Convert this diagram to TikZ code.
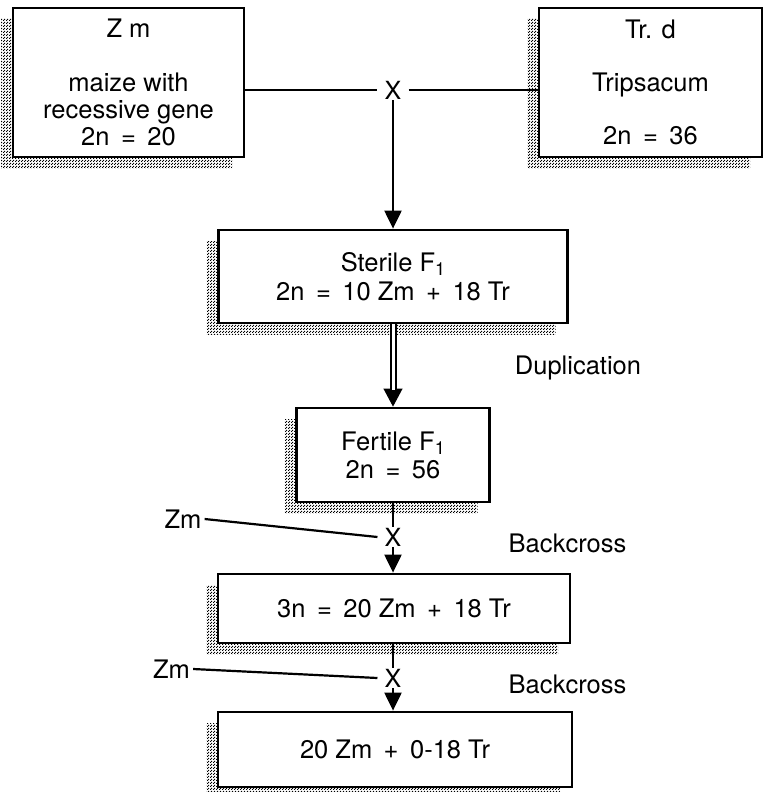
\documentclass[tikz,border=0pt]{standalone}
\usepackage{fontspec}
\setmainfont{TeX Gyre Heros}
\usetikzlibrary{arrows.meta,shadows,patterns}
\pgfdeclarepatternformonly{checkdots}{\pgfqpoint{0pt}{0pt}}{\pgfqpoint{3pt}{3pt}}{\pgfqpoint{3pt}{3pt}}{%
  \pgfpathrectangle{\pgfqpoint{0pt}{0pt}}{\pgfqpoint{1.4pt}{1.4pt}}%
  \pgfpathrectangle{\pgfqpoint{1.5pt}{1.5pt}}{\pgfqpoint{1.4pt}{1.4pt}}%
  \pgfusepath{fill}}
\newcommand{\gap}{\hspace{0.45em}}
\newcommand{\subone}{\raisebox{-0.32ex}{\fontsize{18}{18}\selectfont 1}}
\begin{document}
\begin{tikzpicture}[x=1pt,y=-1pt,
  font=\fontsize{25.5}{27}\selectfont,
  box/.style={draw, line width=2.8pt, fill=white, align=center, inner sep=0pt,
    general shadow={shadow xshift=-12pt, shadow yshift=-11pt, pattern=checkdots, pattern color=black}},
  crossmark/.style={inner xsep=7pt, inner ysep=1pt, font=\fontsize{25}{25}\selectfont},
  link/.style={line width=2.2pt},
  arr/.style={link, -{Triangle[width=17pt,length=18pt]}},
  lbl/.style={inner sep=3pt}
]
\useasboundingbox (0,0) rectangle (763,792);

% boxes
\node[box, minimum width=231pt, minimum height=149pt] (zm) at (128.5,82.5)
  {Z m\\[27pt]maize with\\recessive gene\\2n\gap=\gap20};
\node[box, minimum width=223pt, minimum height=149pt] (trd) at (650.5,82.5)
  {Tr. d\\[26pt]Tripsacum\\[26pt]2n\gap=\gap36};
\node[box, minimum width=349pt, minimum height=93pt] (sterile) at (393,276.5)
  {Sterile F\subone\\[2pt]2n\gap=\gap10 Zm\gap+\gap18 Tr};
\node[box, minimum width=193pt, minimum height=94pt] (fertile) at (393,455)
  {Fertile F\subone\\[1pt]2n\gap=\gap56};
\node[box, minimum width=352pt, minimum height=69pt] (bthree) at (394,608.5)
  {3n\gap=\gap20 Zm\gap+\gap18 Tr};
\node[box, minimum width=354pt, minimum height=75pt] (bfour) at (395,749.5)
  {20 Zm\gap+\gap0-18 Tr};

% cross marks
\node[crossmark] (x1) at (393,90) {X};
\node[crossmark] (x2) at (393,537) {X};
\node[crossmark] (x3) at (393,678) {X};

% labels
\node[lbl] (zmA) at (183,519) {Zm};
\node[lbl] (zmB) at (171.5,669) {Zm};
\node[lbl] (dup) at (578,368) {Duplication};
\node[lbl] (bc1) at (567.5,543) {Backcross};
\node[lbl] (bc2) at (567.5,684) {Backcross};

% connectors
\draw[link] (zm.east |- x1) -- (x1);
\draw[link] (x1) -- (trd.west |- x1);
\draw[arr] (x1) -- (x1 |- sterile.north);

\draw[line width=1pt, -{Triangle[width=19pt,length=18pt]}] (sterile.south) -- (fertile.north);
\draw[line width=2pt, double=white, double distance=3pt, shorten >=17pt] (sterile.south) -- (fertile.north);

\draw[link] (fertile.south) -- (x2);
\draw[link] (zmA.east) -- (x2.west);
\draw[arr] (x2) -- (x2 |- bthree.north);

\draw[link] (x3 |- bthree.south) -- (x3);
\draw[link] (zmB.east) -- (x3.west);
\draw[arr] (x3) -- (x3 |- bfour.north);
\end{tikzpicture}
\end{document}
